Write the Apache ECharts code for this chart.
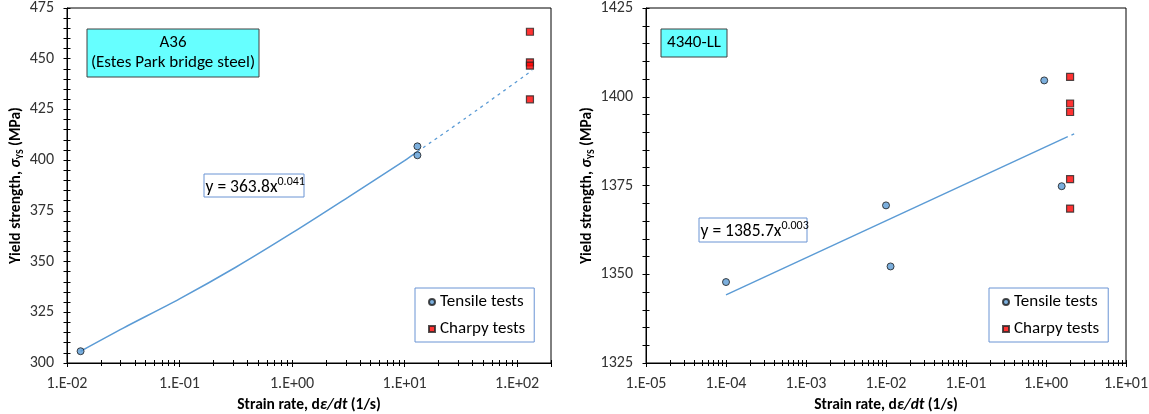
<!DOCTYPE html>
<html>
<head>
<meta charset="utf-8">
<title>Yield strength vs strain rate</title>
<script src="https://cdn.jsdelivr.net/npm/echarts@6/dist/echarts.min.js"></script>
<style>
  html, body { margin: 0; padding: 0; background: #fff; }
  #chart { width: 1149px; height: 414px; }
</style>
</head>
<body>
<div id="chart"></div>
<script>
// ---- A36 (left panel) ----
const a36RateRange = [0.01, 200];
const a36YsRange = [300, 475];
const a36TensileRate = [0.0132, 13.0, 13.0];
const a36TensileYs = [305.8, 406.8, 402.4];
const a36CharpyRate = [130, 130, 130, 130];
const a36CharpyYs = [463.3, 448.2, 446.6, 430.0];
// power-law trendline (solid part + dashed forecast)
const a36FitRate = [0.0132, 0.0316, 0.1, 0.316, 1, 3.16, 10, 13];
const a36FitYs = [305.8, 317.2, 331.6, 347.2, 364.1, 381.8, 399.8, 404.2];
const a36ForecastRate = [13, 35, 136];
const a36ForecastYs = [404.2, 420.8, 444.2];

// ---- 4340-LL (right panel) ----
const llRateRange = [1e-5, 10];
const llYsRange = [1325, 1425];
const llTensileRate = [1e-4, 0.01, 0.0114, 0.95, 1.57];
const llTensileYs = [1347.8, 1369.4, 1352.2, 1404.6, 1374.8];
const llCharpyRate = [2, 2, 2, 2, 2];
const llCharpyYs = [1405.6, 1398.1, 1395.7, 1376.8, 1368.5];
const llFitRate = [1e-4, 1.73];
const llFitYs = [1344.2, 1388.4];
const llForecastRate = [1.73, 2.49];
const llForecastYs = [1388.4, 1390.0];

const legendNames = ['Tensile tests', 'Charpy tests'];
const tickMultipliers = [1, 2, 3, 4, 5, 6, 7, 8, 9];

const FONT = 'Carlito, Lato, sans-serif';
const BLUE = '#5B9BD5';

function zip(xs, ys) { return xs.map(function (x, i) { return [x, ys[i]]; }); }

// exponents (log10) of the ticks m*10^k inside the range, for the overlay tick axes
function logTickExponents(range) {
  const out = [];
  const e0 = Math.floor(Math.log10(range[0]));
  const e1 = Math.ceil(Math.log10(range[1]));
  for (let e = e0; e <= e1; e++) {
    tickMultipliers.forEach(function (m) {
      const l = e + Math.log10(m);
      if (l >= Math.log10(range[0]) - 1e-9 && l <= Math.log10(range[1]) + 1e-9) out.push(l);
    });
  }
  return out;
}

function expLabel(v) {
  const l = Math.log10(v);
  const e = Math.round(l);
  if (Math.abs(l - e) > 1e-6) return '';
  const a = Math.abs(e);
  return '1.E' + (e < 0 ? '-' : '+') + (a < 10 ? '0' : '') + a;
}

function panelSeries(idx, t, c, fit, fore, smooth) {
  return [
    {
      name: 'trend', type: 'line', xAxisIndex: idx, yAxisIndex: idx, data: fit,
      smooth: smooth, showSymbol: false, silent: true,
      lineStyle: { color: BLUE, width: 1.5 }, z: 4
    },
    {
      name: 'forecast', type: 'line', xAxisIndex: idx, yAxisIndex: idx, data: fore,
      smooth: smooth, showSymbol: false, silent: true,
      lineStyle: { color: BLUE, width: 1.3, type: [3, 4] }, z: 4
    },
    {
      name: 'Tensile tests', type: 'scatter', xAxisIndex: idx, yAxisIndex: idx, data: t,
      symbol: 'circle', symbolSize: 7,
      itemStyle: { color: BLUE, borderColor: '#1a1a1a', borderWidth: 1 }, z: 6
    },
    {
      name: 'Charpy tests', type: 'scatter', xAxisIndex: idx, yAxisIndex: idx, data: c,
      symbol: 'rect', symbolSize: 7,
      itemStyle: { color: '#FF0000', borderColor: '#262626', borderWidth: 1.2 }, z: 6
    }
  ];
}

function xAxis(idx, range) {
  return {
    type: 'log', logBase: 10, gridIndex: idx, min: range[0], max: range[1], position: 'bottom',
    axisLine: { onZero: false, lineStyle: { color: '#000', width: 1 } },
    axisTick: { show: true, length: 4, lineStyle: { color: '#000' } }, splitLine: { show: false },
    axisLabel: { formatter: expLabel, color: '#333', fontSize: 16, fontFamily: FONT, margin: 13 },
    name: '{b|Strain rate, d}{i|ε/dt}{b| (1/s)}',
    nameLocation: 'middle', nameGap: 31,
    nameTextStyle: {
      rich: {
        b: { fontSize: 15.5, fontWeight: 'bold', fontFamily: FONT, color: '#000' },
        i: { fontSize: 15.5, fontWeight: 'bold', fontStyle: 'italic', fontFamily: FONT, color: '#000' }
      }
    }
  };
}

// invisible value axis in log10 units that only draws the 1..9 x 10^k ticks
function xTickAxis(idx, range, inside) {
  return {
    type: 'value', gridIndex: idx, position: 'bottom',
    min: Math.log10(range[0]), max: Math.log10(range[1]),
    axisLine: { show: false, onZero: false },
    axisLabel: { show: false }, splitLine: { show: false },
    axisTick: { show: true, inside: inside, length: 3, customValues: logTickExponents(range), lineStyle: { color: '#000' } }
  };
}

function yAxis(idx, range, gap) {
  return {
    type: 'value', gridIndex: idx, min: range[0], max: range[1], interval: 25, position: 'left',
    axisLine: { show: true, onZero: false, lineStyle: { color: '#000', width: 1 } },
    axisTick: { show: true, length: 3.5, lineStyle: { color: '#000' } },
    minorTick: { show: true, splitNumber: 5, length: 3.5, lineStyle: { color: '#000' } },
    splitLine: { show: false },
    axisLabel: { formatter: function (v) { return String(v); }, color: '#333', fontSize: 16, fontFamily: FONT, margin: 13 },
    name: '{b|Yield strength, }{i|σ}{s|YS}{b| (MPa)}',
    nameLocation: 'middle', nameGap: gap, nameRotate: 90,
    nameTextStyle: {
      rich: {
        b: { fontSize: 15.5, fontWeight: 'bold', fontFamily: FONT, color: '#000' },
        i: { fontSize: 15.5, fontWeight: 'bold', fontStyle: 'italic', fontFamily: FONT, color: '#000' },
        s: { fontSize: 10, fontWeight: 'bold', fontFamily: FONT, color: '#000', verticalAlign: 'bottom', lineHeight: 20 }
      }
    }
  };
}

// inner half of the crossing y ticks
function yTickAxis(idx, range) {
  return {
    type: 'value', gridIndex: idx, min: range[0], max: range[1], interval: 25, position: 'left',
    axisLine: { show: false, onZero: false },
    axisLabel: { show: false }, splitLine: { show: false },
    axisTick: { show: true, inside: true, length: 3.5, lineStyle: { color: '#000' } },
    minorTick: { show: true, splitNumber: 5, length: 3.5, lineStyle: { color: '#000' } }
  };
}

function legend(left) {
  return {
    data: [{ name: legendNames[0], icon: 'circle' }, { name: legendNames[1], icon: 'rect' }],
    orient: 'vertical', left: left, top: 288, selectedMode: false,
    itemWidth: 6, itemHeight: 6, itemGap: 9,
    padding: [5, 9, 4, 13],
    borderColor: '#6A94D4', borderWidth: 1,
    textStyle: { fontSize: 17, fontFamily: FONT, color: '#000', lineHeight: 18 }
  };
}

function box(x, y, w, h, fill, stroke) {
  return { type: 'rect', x: x, y: y, shape: { x: 0, y: 0, width: w, height: h }, style: { fill: fill, stroke: stroke, lineWidth: 1 }, z: 10 };
}
function label(x, y, text) {
  return { type: 'text', x: x, y: y, z: 11, style: { text: text, fontSize: 17, fontFamily: FONT, fill: '#000', align: 'center', verticalAlign: 'middle' } };
}
function equation(x, y, base, exp) {
  return {
    type: 'text', x: x, y: y, z: 11,
    style: {
      text: '{a|' + base + '}{e|' + exp + '}', align: 'left', verticalAlign: 'middle',
      rich: {
        a: { fontSize: 17.5, fontFamily: FONT, color: '#000', lineHeight: 21, verticalAlign: 'bottom' },
        e: { fontSize: 12, fontFamily: FONT, color: '#000', lineHeight: 21, verticalAlign: 'top' }
      }
    }
  };
}

const chart = echarts.init(document.getElementById('chart'));
chart.setOption({
  animation: false,
  backgroundColor: '#fff',
  // fixed plot boxes; no automatic shrinking to fit the axis names
  grid: [
    { left: 67, top: 8, width: 484, height: 355, outerBoundsMode: 'none', show: true, borderColor: '#000', borderWidth: 1 },
    { left: 646, top: 8, width: 480, height: 355, outerBoundsMode: 'none', show: true, borderColor: '#000', borderWidth: 1 }
  ],
  xAxis: [
    xAxis(0, a36RateRange), xAxis(1, llRateRange),
    xTickAxis(0, a36RateRange, false), xTickAxis(0, a36RateRange, true),
    xTickAxis(1, llRateRange, false), xTickAxis(1, llRateRange, true)
  ],
  yAxis: [
    yAxis(0, a36YsRange, 40), yAxis(1, llYsRange, 40),
    yTickAxis(0, a36YsRange), yTickAxis(1, llYsRange)
  ],
  legend: [legend(415), legend(989)],
  series: []
    .concat(panelSeries(0,
      zip(a36TensileRate, a36TensileYs), zip(a36CharpyRate, a36CharpyYs),
      zip(a36FitRate, a36FitYs), zip(a36ForecastRate, a36ForecastYs), 0.3))
    .concat(panelSeries(1,
      zip(llTensileRate, llTensileYs), zip(llCharpyRate, llCharpyYs),
      zip(llFitRate, llFitYs), zip(llForecastRate, llForecastYs), false)),
  graphic: [
    box(87, 29, 172, 48, '#66FFFF', '#404040'),
    label(173, 42.5, 'A36'),
    label(173, 63, '(Estes Park bridge steel)'),
    box(661, 29, 66, 28, '#66FFFF', '#404040'),
    label(694, 43, '4340-LL'),
    box(204, 174, 100, 23, '#fff', '#6A94D4'),
    equation(205.5, 186, 'y = 363.8x', '0.041'),
    box(699, 218, 108, 24, '#fff', '#6A94D4'),
    equation(700.5, 230.5, 'y = 1385.7x', '0.003')
  ]
});
</script>
</body>
</html>
